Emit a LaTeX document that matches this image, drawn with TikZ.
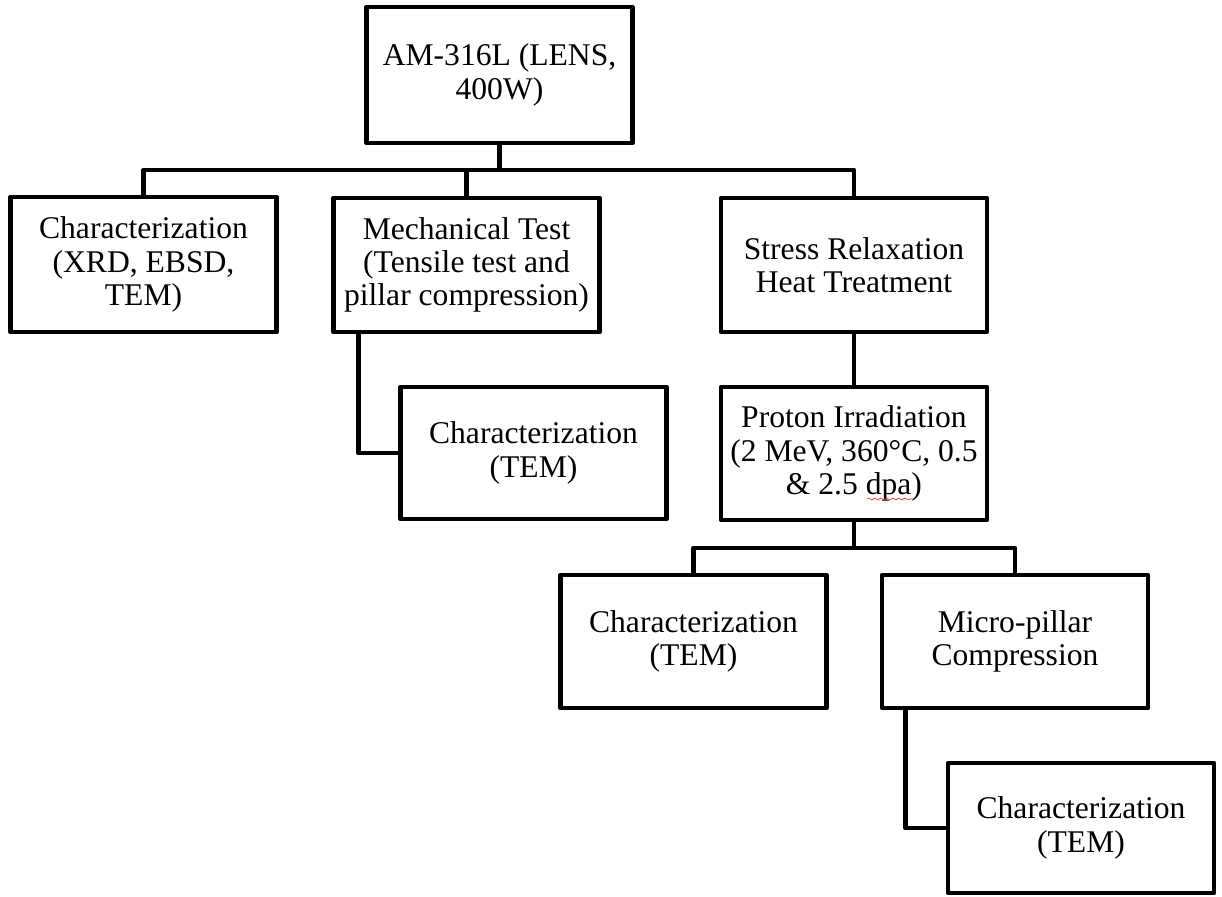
\documentclass[tikz,border=0pt]{standalone}
\usepackage{fontspec}
\setmainfont{Liberation Serif}
\usetikzlibrary{calc,decorations.pathmorphing}
\begin{document}
\begin{tikzpicture}[x=0.5pt,y=-0.5pt,
  blk/.style={draw, line width=2.4pt, line join=round, minimum width=133pt,
    minimum height=#1, align=center, inner sep=0pt,
    font={\fontsize{15.8pt}{16.6pt}\selectfont}},
  blk/.default=67pt,
  link/.style={line width=2.4pt, line join=round}]
\useasboundingbox[fill=white] (0,0) rectangle (1222,897);

% process boxes
\node[blk=68pt] (top) at (499.5,75) {AM-316L (LENS,\\400W)};
\node[blk=67.5pt] (b1) at (143.5,264.5) {Characterization\\(XRD, EBSD,\\TEM)};
\node[blk] (b2) at (466.5,265) {Mechanical Test\\(Tensile test and\\pillar compression)};
\node[blk] (b3) at (854,265) {Stress Relaxation\\Heat Treatment};
\node[blk=66pt] (b4) at (533.5,453) {Characterization\\(TEM)};
\node[blk=66.5pt] (b5) at (854,453.5) {Proton Irradiation\\(2 MeV, 360\textdegree C, 0.5\\\& 2.5 dpa)};
\node[blk=66.5pt] (b6) at (693.5,641.5) {Characterization\\(TEM)};
\node[blk=66.5pt] (b7) at (1015,641.5) {Micro-pillar\\Compression};
\node[blk=65pt] (b8) at (1081,828) {Characterization\\(TEM)};

% bus levels
\coordinate (busA) at (0,170);
\coordinate (busB) at (0,548);

% first level tree
\draw[link] (top.south) -- (top.south |- busA);
\draw[link] (b1.north) -- (b1.north |- busA) -- (b3.north |- busA) -- (b3.north);
\draw[link] (b2.north) -- (b2.north |- busA);
\draw[link] ($(b2.south west)+(27,0)$) |- (b4.west);
\draw[link] (b3.south) -- (b5.north);

% second level tree
\draw[link] (b5.south) -- (b5.south |- busB);
\draw[link] (b6.north) -- (b6.north |- busB) -- (b7.north |- busB) -- (b7.north);
\draw[link] ($(b7.south west)+(26,0)$) |- (b8.west);

% spelling mark under "dpa"
\draw[red!80, line width=0.35pt, decorate,
  decoration={snake, amplitude=0.5pt, segment length=3pt}] (867,499) -- (912,499);
\end{tikzpicture}
\end{document}
